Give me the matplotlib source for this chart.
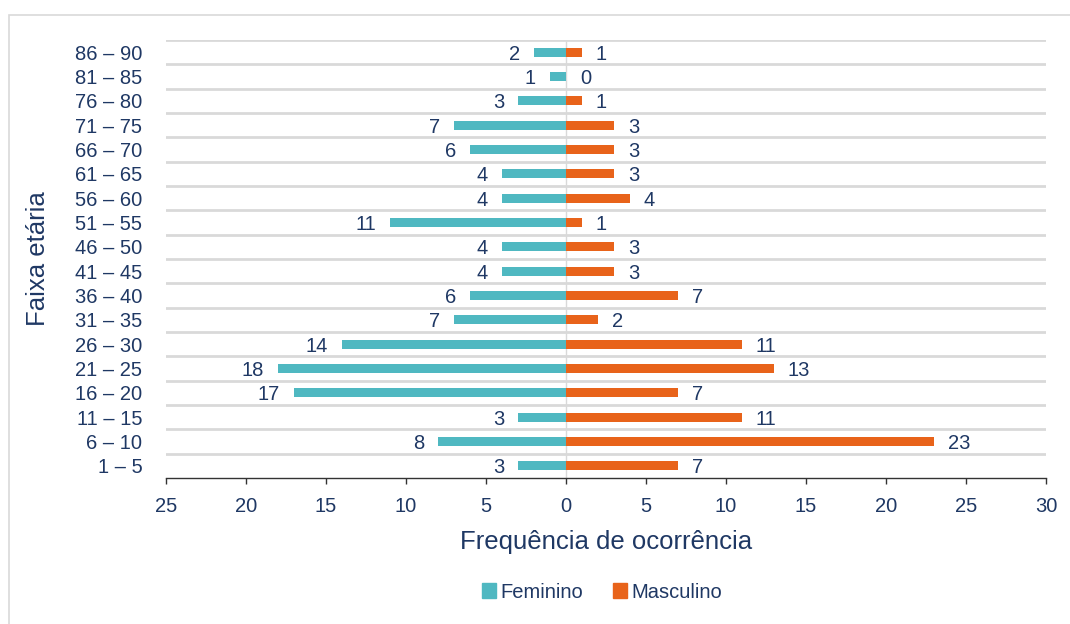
"""Pirâmide etária — frequência de ocorrência por faixa etária e sexo."""
import numpy as np
import matplotlib.pyplot as plt
from matplotlib.patches import Patch, Rectangle
from matplotlib.ticker import FuncFormatter, MultipleLocator

plt.rcParams["font.family"] = ["Liberation Sans", "DejaVu Sans"]

faixas = ["1 – 5", "6 – 10", "11 – 15", "16 – 20", "21 – 25", "26 – 30",
          "31 – 35", "36 – 40", "41 – 45", "46 – 50", "51 – 55", "56 – 60",
          "61 – 65", "66 – 70", "71 – 75", "76 – 80", "81 – 85", "86 – 90"]
feminino = [3, 8, 3, 17, 18, 14, 7, 6, 4, 4, 11, 4, 4, 6, 7, 3, 1, 2]
masculino = [7, 23, 11, 7, 13, 11, 2, 7, 3, 3, 1, 4, 3, 3, 3, 1, 0, 1]

TEAL = "#4FB8C1"
ORANGE = "#E8631A"
NAVY = "#1F3864"
GRID = "#D9D9D9"
FS = 14.5

W, H = 1070, 624
fig = plt.figure(figsize=(W / 100, H / 100), dpi=100)
ax = fig.add_axes([166 / W, 1 - 478 / H, 880 / W, 438 / H])

y = np.arange(len(faixas))
fem = -np.array(feminino)
masc = np.array(masculino)

ax.barh(y, fem, height=0.36, color=TEAL, zorder=3)
ax.barh(y, masc, height=0.36, color=ORANGE, zorder=3)

# data labels
for yi, f, m in zip(y, feminino, masculino):
    ax.annotate(str(f), (-f, yi), xytext=(-10, 0), textcoords="offset points",
                ha="right", va="center_baseline", fontsize=FS, color=NAVY)
    ax.annotate(str(m), (m, yi), xytext=(10, 0), textcoords="offset points",
                ha="left", va="center_baseline", fontsize=FS, color=NAVY)

ax.axvline(0, color=GRID, lw=1, zorder=2)

ax.set_xlim(-25, 30)
ax.set_ylim(-0.5, len(faixas) - 0.5)
ax.xaxis.set_major_locator(MultipleLocator(5))
ax.xaxis.set_major_formatter(FuncFormatter(lambda v, _: f"{abs(int(round(v)))}"))

ax.set_yticks(y)
ax.set_yticklabels(faixas, va="center_baseline")
ax.set_yticks(np.arange(len(faixas)) + 0.5, minor=True)
ax.grid(True, axis="y", which="minor", color=GRID, lw=2, zorder=1)
ax.grid(False, axis="y", which="major")

for s in ["top", "right", "left"]:
    ax.spines[s].set_visible(False)
ax.spines["bottom"].set_color("#333333")
ax.spines["bottom"].set_linewidth(1)

ax.tick_params(axis="y", which="both", length=0, pad=17, labelsize=FS, labelcolor=NAVY)
ax.tick_params(axis="x", length=4, width=1, color="#333333", pad=10,
               labelsize=FS, labelcolor=NAVY)

ax.set_xlabel("Frequência de ocorrência", fontsize=18.5, color=NAVY, labelpad=10)
ax.set_ylabel("Faixa etária", fontsize=18.5, color=NAVY, labelpad=18)

handles = [Patch(color=TEAL, label="Feminino"), Patch(color=ORANGE, label="Masculino")]
fig.legend(handles=handles, loc="center", bbox_to_anchor=(602 / W, 1 - 592 / H),
           ncol=2, frameon=False, fontsize=FS, handlelength=0.7, handleheight=0.7,
           handletextpad=0.2, columnspacing=1.5, labelcolor=NAVY)

# outer chart frame
fig.patches.append(Rectangle((9 / W, -0.1), 1.2, 1.1 - 15 / H, transform=fig.transFigure,
                             fill=False, edgecolor=GRID, lw=1.2))

fig.savefig("out.png", dpi=100)
